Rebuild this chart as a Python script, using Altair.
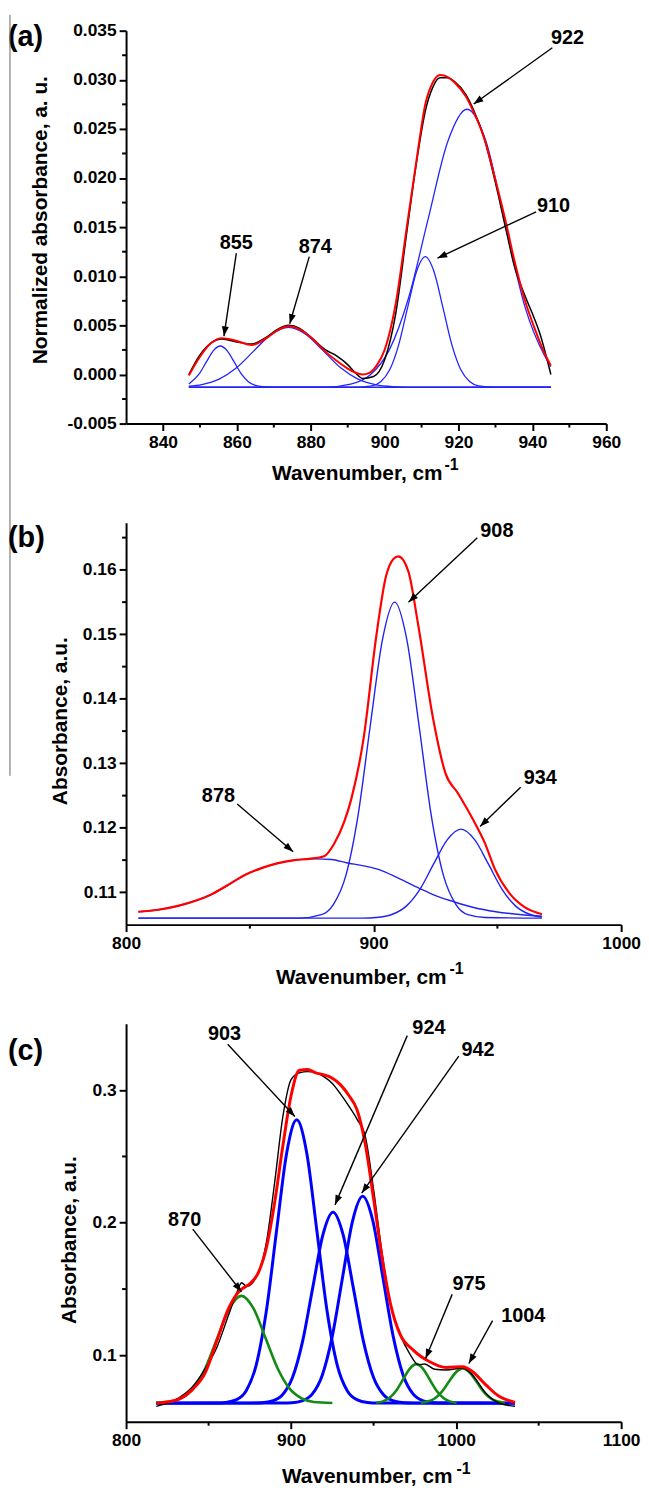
import math
import altair as alt
import pandas as pd

FONT = "Liberation Sans"

# ---------------- panel (a) ----------------
a_red_x = [847, 850, 853, 856, 860, 864, 868, 871, 874, 877, 880, 884, 887, 890, 892, 894, 896, 898, 900, 903,
           906, 909, 911, 913, 915, 917, 919, 922, 924, 927, 930, 933, 935, 938, 941, 943, 945]
a_red_y = [-0.0001, 0.0018, 0.0032, 0.0037, 0.0034, 0.0030, 0.0037, 0.0045, 0.0049, 0.0046, 0.0038, 0.0023, 0.0014,
           0.0006, 0.0002, 0.0000, 0.0002, 0.0010, 0.0025, 0.0072, 0.0150, 0.0228, 0.0275, 0.0297, 0.0305, 0.0303,
           0.0297, 0.0283, 0.0268, 0.0240, 0.0198, 0.0152, 0.0118, 0.0075, 0.0043, 0.0024, 0.0009]
a_black_x = [847, 850, 853, 856, 860, 864, 868, 871, 874, 877, 880, 884, 887, 890, 892, 894, 897, 900, 903, 906,
             909, 911, 913, 915, 917, 919, 922, 924, 927, 930, 933, 935, 938, 940, 942, 945]
a_black_y = [0.0000, 0.0020, 0.0032, 0.0036, 0.0033, 0.0031, 0.0038, 0.0046, 0.0050, 0.0047, 0.0038, 0.0025, 0.0019,
             0.0010, 0.0002, -0.0004, -0.0002, 0.0015, 0.0062, 0.0145, 0.0225, 0.0268, 0.0292, 0.0302, 0.0302,
             0.0298, 0.0285, 0.0270, 0.0240, 0.0195, 0.0145, 0.0112, 0.0080, 0.0062, 0.0042, 0.0000]
a_c855_x = [847, 849.8, 851.7, 853.6, 855.5, 857.4, 859.3, 861.2, 863.1, 865, 866.9, 870, 945]
a_c855_y = [-0.00096, 0.00006, 0.00125, 0.00241, 0.0029, 0.00241, 0.00125, 0.00006, -0.00073, -0.00112, -0.00125,
            -0.0013, -0.0013]
a_c874_x = [847, 850.5, 855.2, 859.9, 864.6, 869.3, 874, 878.7, 883.4, 888.1, 892.8, 897.5, 902.2, 909, 945]
a_c874_y = [-0.0012, -0.00103, -0.00047, 0.00068, 0.0024, 0.00408, 0.0048, 0.00408, 0.0024, 0.00068, -0.00047,
            -0.00103, -0.00123, -0.0013, -0.0013]
a_c910_x = [847, 892, 896.6, 899, 901.4, 903.8, 906.2, 908.6, 911, 913.4, 915.8, 918.2, 920.6, 923, 925.4, 930, 945]
a_c910_y = [-0.0013, -0.0013, -0.00115, -0.00072, 0.0005, 0.00302, 0.00677, 0.01044, 0.012, 0.01044, 0.00677,
            0.00302, 0.0005, -0.00072, -0.00115, -0.0013, -0.0013]
a_c922_x = [847, 884, 890.8, 896.05, 901.3, 906.55, 911.8, 917.05, 922.3, 927.55, 932.8, 938.05, 943.3, 945]
a_c922_y = [-0.0013, -0.0013, -0.00099, -0.00006, 0.00253, 0.00789, 0.01586, 0.02367, 0.0270, 0.0236, 0.0150,
            0.0068, 0.0019, 0.0008]
a_lab = ["855", "874", "910", "922"]
a_lab_x = [859.85, 881.2, 945.7, 949.5]
a_lab_y = [0.01336, 0.0130, 0.01715, 0.03422]
a_arr_x1 = [859.85, 879.6, 941.0, 945.4]
a_arr_y1 = [0.01235, 0.0120, 0.01656, 0.03326]
a_arr_x2 = [856.5, 874.3, 914.3, 924.1]
a_arr_y2 = [0.0039, 0.00516, 0.01184, 0.02753]
a_xticks = [840, 860, 880, 900, 920, 940, 960]
a_yticks = [-0.005, 0.0, 0.005, 0.01, 0.015, 0.02, 0.025, 0.03, 0.035]
a_xminor = [850, 870, 890, 910, 930, 950]
a_yminor = [-0.0025, 0.0025, 0.0075, 0.0125, 0.0175, 0.0225, 0.0275, 0.0325]

# ---------------- panel (b) ----------------
b_red_x = [805, 813, 821, 828, 834, 841, 848, 855, 861, 868, 874, 880, 884, 888, 891, 896, 901, 905, 908, 910,
           914, 918, 924, 929, 934, 940, 945, 949, 955, 961, 968]
b_red_y = [0.1070, 0.1073, 0.1079, 0.1087, 0.1096, 0.1111, 0.1127, 0.1138, 0.1145, 0.1150, 0.1152, 0.1156, 0.1175,
           0.1208, 0.1245, 0.1340, 0.1495, 0.1590, 0.1617, 0.1621, 0.1598, 0.1515, 0.1370, 0.1285, 0.1254, 0.1214,
           0.1176, 0.1136, 0.1098, 0.1077, 0.1066]
b_c878_x = [805, 813, 821, 828, 834, 841, 848, 855, 861, 868, 876, 883, 889, 896, 902.5, 910, 918.6, 925, 932, 940,
            949.4, 958, 968]
b_c878_y = [0.1070, 0.1073, 0.1079, 0.1087, 0.1096, 0.1111, 0.1127, 0.1138, 0.1145, 0.1150, 0.1152, 0.1151, 0.1146,
            0.1141, 0.1135, 0.1122, 0.1106, 0.1095, 0.1086, 0.1077, 0.1070, 0.1066, 0.1063]
b_c908_x = [805, 870, 878.9, 883.8, 888.8, 893.7, 898.6, 903.6, 908.5, 913.4, 918.4, 923.3, 928.2, 933.2, 938.1,
            945, 968]
b_c908_y = [0.106, 0.106, 0.10654, 0.10815, 0.11263, 0.12191, 0.13572, 0.14924, 0.155, 0.14924, 0.13572, 0.12191,
            0.11263, 0.10815, 0.10654, 0.1061, 0.106]
b_c934_x = [805, 895, 902.1, 907.6, 913.2, 918.7, 924.2, 929.8, 935.3, 940.8, 946.4, 951.9, 957.4, 963, 968]
b_c934_y = [0.106, 0.106, 0.10615, 0.10661, 0.10787, 0.11048, 0.11437, 0.11818, 0.1198, 0.11818, 0.11437, 0.11048,
            0.10787, 0.10661, 0.10618]
b_lab = ["878", "908", "934"]
b_lab_x = [837.3, 949.8, 967.3]
b_lab_y = [0.1249, 0.16603, 0.1277]
b_arr_x1 = [844.9, 941.9, 959.4]
b_arr_y1 = [0.1237, 0.1650, 0.1263]
b_arr_x2 = [867.5, 914.1, 943.0]
b_arr_y2 = [0.1163, 0.1550, 0.1202]
b_xticks = [800, 900, 1000]
b_yticks = [0.11, 0.12, 0.13, 0.14, 0.15, 0.16]
b_xminor = [850, 950]
b_yminor = [0.115, 0.125, 0.135, 0.145, 0.155, 0.165]

# ---------------- panel (c) ----------------
c_red_x = [818.3, 825, 832, 840, 848, 855, 862, 867, 870, 875, 880, 885, 890, 895, 900, 905, 910, 915, 920, 925,
           930, 935, 940, 945, 950, 955, 960, 966, 974, 984, 994, 1004, 1010, 1018, 1026, 1035.7]
c_red_y = [0.0640, 0.0650, 0.0670, 0.0740, 0.0870, 0.1110, 0.1350, 0.1460, 0.1500, 0.1540, 0.1620, 0.1810, 0.2150,
           0.2580, 0.2960, 0.3150, 0.3155, 0.3130, 0.3115, 0.3090, 0.3040, 0.2960, 0.2850, 0.2590, 0.2180, 0.1750,
           0.1400, 0.1160, 0.1040, 0.0952, 0.0909, 0.0915, 0.0877, 0.0778, 0.0691, 0.0646]
c_black_x = [818.3, 825, 832, 840, 848, 855, 862, 867, 870, 873, 880, 885, 890, 895, 900, 905, 910, 915, 920, 925,
             930, 935, 940, 945, 950, 955, 960, 966, 972, 977, 981, 987, 994, 1004, 1010, 1018, 1026, 1035.7]
c_black_y = [0.0616, 0.0640, 0.0680, 0.0760, 0.0900, 0.1060, 0.1300, 0.1470, 0.1548, 0.1520, 0.1620, 0.1850, 0.2300,
             0.2800, 0.3080, 0.3130, 0.3140, 0.3130, 0.3100, 0.3050, 0.2970, 0.2880, 0.2780, 0.2650, 0.2250, 0.1780,
             0.1400, 0.1160, 0.1010, 0.0930, 0.0935, 0.0895, 0.0890, 0.0905, 0.0850, 0.0715, 0.0641, 0.0616]
c_g870_x = [818.3, 826.1, 833.4, 840.7, 848, 855.3, 862.6, 869.9, 877.2, 884.5, 891.8, 899.1, 906.4, 913.7, 925]
c_g870_y = [0.0642, 0.0649, 0.0676, 0.0749, 0.0903, 0.1131, 0.1354, 0.1449, 0.1354, 0.1131, 0.0903, 0.0749, 0.0676,
            0.0649, 0.0641]
c_b903_x = [818.3, 855.4, 860.5, 866.65, 872.8, 878.9, 885, 891.15, 897.3, 903.4, 909.5, 915.65, 921.8, 927.9, 934,
            940.15, 946.3, 952.4, 1035.7]
c_b903_y = [0.064, 0.0641, 0.0645, 0.0664, 0.0734, 0.0929, 0.1334, 0.1936, 0.2525, 0.2776, 0.2525, 0.1936, 0.1334,
            0.0929, 0.0734, 0.0664, 0.0645, 0.0641, 0.064]
c_b924_x = [818.3, 876.4, 882.5, 888.65, 894.8, 900.9, 907, 913.15, 919.3, 925.4, 931.5, 937.65, 943.8, 949.9, 956,
            962.15, 968.3, 974.4, 1035.7]
c_b924_y = [0.064, 0.0640, 0.0643, 0.0656, 0.0703, 0.0835, 0.1108, 0.1513, 0.1911, 0.208, 0.1911, 0.1513, 0.1108,
            0.0835, 0.0703, 0.0656, 0.0643, 0.0640, 0.064]
c_b942_x = [818.3, 894.4, 900.5, 906.65, 912.8, 918.9, 925, 931.15, 937.3, 943.4, 949.5, 955.65, 961.8, 967.9, 974,
            980.15, 986.3, 992.4, 1035.7]
c_b942_y = [0.064, 0.0641, 0.0643, 0.0657, 0.0708, 0.0851, 0.1147, 0.1586, 0.2017, 0.22, 0.2017, 0.1586, 0.1147,
            0.0851, 0.0708, 0.0657, 0.0643, 0.0641, 0.064]
c_g975_x = [951.6, 955.65, 959.7, 963.75, 967.8, 971.85, 975.9, 979.95, 984, 988.05, 992.1, 996.15, 1000.2]
c_g975_y = [0.0643, 0.0653, 0.0680, 0.0735, 0.0818, 0.0899, 0.0934, 0.0899, 0.0818, 0.0735, 0.0680, 0.0653, 0.0643]
c_g1004_x = [978.5, 982.75, 987, 991.25, 995.5, 999.75, 1004, 1008.25, 1012.5, 1016.75, 1021, 1025.25, 1029.5]
c_g1004_y = [0.0643, 0.0652, 0.0675, 0.0725, 0.0799, 0.0871, 0.0902, 0.0871, 0.0799, 0.0725, 0.0675, 0.0652, 0.0643]
c_lab = ["870", "903", "924", "942", "975", "1004"]
c_lab_x = [835.5, 859.6, 983.5, 1013.3, 1007.8, 1040.7]
c_lab_y = [0.2021, 0.3422, 0.3466, 0.3306, 0.154, 0.1294]
c_arr_x1 = [840.4, 861.6, 970.4, 1001.6, 997.6, 1022.1]
c_arr_y1 = [0.1952, 0.3346, 0.3411, 0.3256, 0.146, 0.1262]
c_arr_x2 = [869.9, 902.3, 926.6, 942.8, 981.5, 1007.7]
c_arr_y2 = [0.148, 0.2801, 0.2135, 0.2224, 0.0976, 0.0939]
c_xticks = [800, 900, 1000, 1100]
c_yticks = [0.1, 0.2, 0.3]
c_xminor = [850, 950, 1050]
c_yminor = [0.15, 0.25]

ARROW = "M0,0L-0.36,1L0.36,1Z"


def series(pairs):
    frames = [pd.DataFrame({"x": xs, "y": ys, "s": name}) for name, xs, ys in pairs]
    return pd.concat(frames, ignore_index=True)


def ptext(txt, px, py, size, align="left", baseline="alphabetic", angle=0):
    kw = dict(font=FONT, fontSize=size, fontWeight="bold", color="black", align=align, baseline=baseline)
    if angle:
        kw["angle"] = angle
    return alt.Chart(pd.DataFrame({"t": [txt]})).mark_text(**kw).encode(
        x=alt.value(px), y=alt.value(py), text="t:N")


def build_panel(cfg):
    W, H = cfg["w"], cfg["h"]
    xdom, ydom = cfg["xdom"], cfg["ydom"]
    xsc = alt.Scale(domain=xdom, zero=False, nice=False)
    ysc = alt.Scale(domain=ydom, zero=False, nice=False)
    xax = alt.Axis(values=cfg["xticks"], format="d", labelFlush=False)
    yax = alt.Axis(values=cfg["yticks"], labelExpr=cfg["ylabexpr"], labelFlush=False)

    def X(f):
        return alt.X(f, type="quantitative", scale=xsc, axis=xax, title=None)

    def Y(f):
        return alt.Y(f, type="quantitative", scale=ysc, axis=yax, title=None)

    layers = []
    for df, color, width in cfg["lines"]:
        layers.append(alt.Chart(df).mark_line(color=color, strokeWidth=width, interpolate="monotone").encode(
            x=X("x"), y=Y("y"), detail="s:N"))

    sx = W / (xdom[1] - xdom[0])
    sy = H / (ydom[1] - ydom[0])
    angs = []
    for x1, y1, x2, y2 in zip(cfg["ax1"], cfg["ay1"], cfg["ax2"], cfg["ay2"]):
        dx = (x2 - x1) * sx
        dys = -(y2 - y1) * sy
        angs.append(math.degrees(math.atan2(dx, -dys)) % 360)
    arr = pd.DataFrame({"x1": cfg["ax1"], "y1": cfg["ay1"], "x2": cfg["ax2"], "y2": cfg["ay2"], "ang": angs})
    layers.append(alt.Chart(arr).mark_rule(color="black", strokeWidth=1.4).encode(
        x=X("x1"), y=Y("y1"), x2="x2:Q", y2="y2:Q"))
    layers.append(alt.Chart(arr).mark_point(shape=ARROW, filled=True, size=380, color="black", opacity=1,
                                            strokeWidth=0).encode(
        x=X("x2"), y=Y("y2"), angle=alt.Angle("ang:Q", scale=None)))
    lab = pd.DataFrame({"lab": cfg["labs"], "lx": cfg["lx"], "ly": cfg["ly"]})
    layers.append(alt.Chart(lab).mark_text(font=FONT, fontSize=20, fontWeight="bold", color="black").encode(
        x=X("lx"), y=Y("ly"), text="lab:N"))

    # minor ticks
    layers.append(alt.Chart(pd.DataFrame({"v": cfg["xminor"]})).mark_rule(color="black", strokeWidth=2).encode(
        x=X("v"), y=alt.value(H), y2=alt.value(H + 4)))
    layers.append(alt.Chart(pd.DataFrame({"v": cfg["yminor"]})).mark_rule(color="black", strokeWidth=2).encode(
        y=Y("v"), x=alt.value(0), x2=alt.value(-4)))

    t = cfg["titles"]
    layers.append(ptext("Wavenumber, cm", t["xt"][0], t["xt"][1], 21, align="right"))
    layers.append(ptext("-1", t["sup"][0], t["sup"][1], 16, align="left"))
    layers.append(ptext(cfg["ytitle"], t["yt"][0], t["yt"][1], 21, align="center", baseline="middle", angle=270))
    layers.append(ptext(cfg["tag"], t["tag"][0], t["tag"][1], 29, align="left"))
    layers.extend(cfg.get("extra", []))
    return alt.layer(*layers).properties(width=W, height=H)


one = pd.DataFrame({"k": [0]})
artifact = alt.Chart(one).mark_rule(color="#666666", strokeWidth=1).encode(
    x=alt.value(-117), y=alt.value(-16), y2=alt.value(751))

panel_a = build_panel(dict(
    w=484, h=396, xdom=[830, 960], ydom=[-0.005, 0.035],
    xticks=a_xticks, yticks=a_yticks, xminor=a_xminor, yminor=a_yminor,
    ylabexpr="replace(format(datum.value, '.3f'), '\u2212', '-')",
    lines=[
        (series([("c855", a_c855_x, a_c855_y), ("c874", a_c874_x, a_c874_y),
                 ("c910", a_c910_x, a_c910_y), ("c922", a_c922_x, a_c922_y)]), "#2323ff", 1.3),
        (series([("black", a_black_x, a_black_y)]), "black", 1.5),
        (series([("red", a_red_x, a_red_y)]), "#ff0000", 2.0),
    ],
    ax1=a_arr_x1, ay1=a_arr_y1, ax2=a_arr_x2, ay2=a_arr_y2, labs=a_lab, lx=a_lab_x, ly=a_lab_y,
    ytitle="Normalized absorbance, a. u.", tag="(a)",
    titles=dict(xt=(319, 453), sup=(321, 443), yt=(-85.5, 191), tag=(-119, 15)),
    extra=[artifact],
))

panel_b = build_panel(dict(
    w=499, h=405, xdom=[800, 1000], ydom=[0.105, 0.1673],
    xticks=b_xticks, yticks=b_yticks, xminor=b_xminor, yminor=b_yminor,
    ylabexpr="format(datum.value, '.2f')",
    lines=[
        (series([("c878", b_c878_x, b_c878_y), ("c908", b_c908_x, b_c908_y),
                 ("c934", b_c934_x, b_c934_y)]), "#2222ee", 1.4),
        (series([("red", b_red_x, b_red_y)]), "#ff0000", 2.2),
    ],
    ax1=b_arr_x1, ay1=b_arr_y1, ax2=b_arr_x2, ay2=b_arr_y2, labs=b_lab, lx=b_lab_x, ly=b_lab_y,
    ytitle="Absorbance, a.u.", tag="(b)",
    titles=dict(xt=(323, 465), sup=(326, 455), yt=(-65.3, 200), tag=(-119, 24)),
))

panel_c = build_panel(dict(
    w=499, h=401, xdom=[800, 1100], ydom=[0.05, 0.35],
    xticks=c_xticks, yticks=c_yticks, xminor=c_xminor, yminor=c_yminor,
    ylabexpr="format(datum.value, '.1f')",
    lines=[
        (series([("b903", c_b903_x, c_b903_y), ("b924", c_b924_x, c_b924_y),
                 ("b942", c_b942_x, c_b942_y)]), "#0000ff", 3.0),
        (series([("g870", c_g870_x, c_g870_y), ("g975", c_g975_x, c_g975_y),
                 ("g1004", c_g1004_x, c_g1004_y)]), "#138a13", 2.6),
        (series([("black", c_black_x, c_black_y)]), "black", 1.4),
        (series([("red", c_red_x, c_red_y)]), "#ff0000", 3.0),
    ],
    ax1=c_arr_x1, ay1=c_arr_y1, ax2=c_arr_x2, ay2=c_arr_y2, labs=c_lab, lx=c_lab_x, ly=c_lab_y,
    ytitle="Absorbance, a.u.", tag="(c)",
    titles=dict(xt=(329, 463), sup=(333, 454), yt=(-56.2, 218), tag=(-119, 36)),
))

chart = alt.vconcat(panel_a, panel_b, panel_c, spacing=100, bounds="flush", padding=0).configure_view(
    stroke=None
).configure_axis(
    labelFont=FONT, labelFontSize=17.5, labelFontWeight="bold", labelColor="black",
    domainColor="black", domainWidth=2, tickColor="black", tickWidth=2, tickSize=7,
    labelPadding=3, grid=False,
)

chart.save("out.html", embed_options={"renderer": "svg", "actions": False})
